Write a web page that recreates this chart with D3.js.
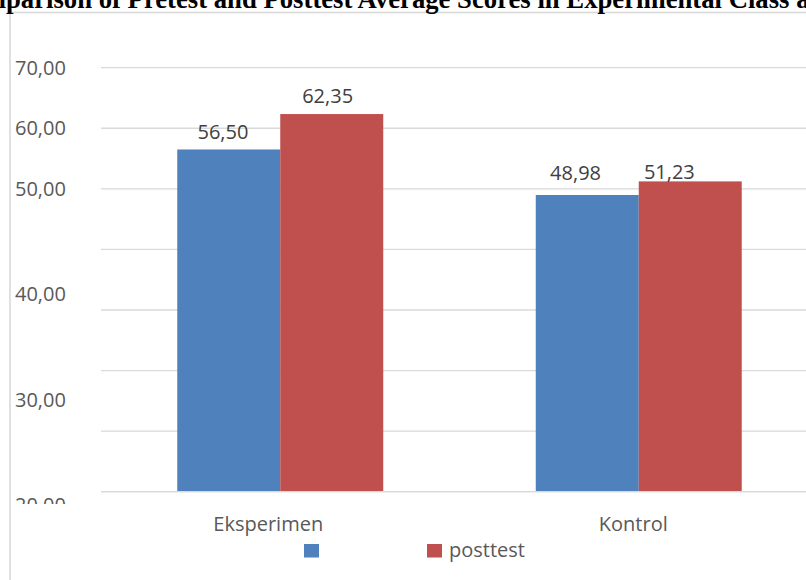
<!DOCTYPE html>
<html>
<head>
<meta charset="utf-8">
<script src="https://cdn.jsdelivr.net/npm/d3@7"></script>
<style>
  html, body { margin: 0; padding: 0; background: #fff; overflow: hidden; }
  svg { display: block; }
</style>
</head>
<body>
<div id="chart"></div>
<script>
// Pretest vs posttest averages, grouped bars (Excel-style)
const categories = ['Eksperimen', 'Kontrol'];
const seriesNames = ['', 'posttest'];          // pretest name is blank in the legend
const pretest = [56.50, 48.98];
const posttest = [62.35, 51.23];
const yTickLabels = [70, 60, 50, 40, 30, 20];
const titleText = 'Comparison of Pretest and Posttest Average Scores in Experimental Class and Control Class';

const W = 806, H = 580;
const COLORS = ['#4f81bd', '#c0504d'];
const GRID = '#d9d9d9';
const TEXT = '#595959';
const FONT = '"Open Sans", "Noto Sans", sans-serif';

const series = [pretest, posttest];
const rows = categories.map((c, i) => ({ cat: c, vals: series.map(s => s[i]) }));
const fmt = d3.formatLocale({ decimal: ',', thousands: '.', grouping: [3], currency: ['', ''] }).format('.2f');

const svg = d3.select('#chart').append('svg')
  .attr('width', W)
  .attr('height', H)
  .style('font-family', FONT);

// chart frame (runs off the right/bottom edge)
svg.append('rect')
  .attr('x', 10).attr('y', 12.5)
  .attr('width', W + 20).attr('height', H + 20)
  .attr('fill', '#fff')
  .attr('stroke', GRID)
  .attr('stroke-width', 1.6);

// title, cropped at the top-left like the source image
const title = svg.append('text')
  .attr('y', 7.8)
  .style('font-family', '"Liberation Serif", "Times New Roman", serif')
  .style('font-weight', 'bold')
  .style('font-size', '26.7px')
  .attr('fill', '#000')
  .text(titleText);
const lead = title.node().getSubStringLength(0, 3);
title.attr('x', 6 - lead);

const x = d3.scaleBand()
  .domain(categories)
  .range([101, 818])
  .paddingInner(0.4254)
  .paddingOuter(0.2127);

const xs = d3.scaleBand()
  .domain(d3.range(series.length))
  .range([0, x.bandwidth()]);

const y = d3.scaleLinear()
  .domain([0, 70])
  .range([491.7, 67.7]);

// gridlines
svg.append('g')
  .selectAll('line')
  .data(y.ticks(7))
  .join('line')
  .attr('x1', 101).attr('x2', 818)
  .attr('y1', d => y(d)).attr('y2', d => y(d))
  .attr('stroke', GRID)
  .attr('stroke-width', 1.3);

// y labels: the picture spaces the lower three further apart than the grid
const labelAt = d3.scaleLinear().domain([20, 40, 50, 70]).range([-2.2, 32.7, 50, 70]);
svg.append('clipPath').attr('id', 'ylab-clip')
  .append('rect').attr('x', 0).attr('y', 0).attr('width', 100).attr('height', 504);

svg.append('g')
  .attr('clip-path', 'url(#ylab-clip)')
  .selectAll('text')
  .data(yTickLabels)
  .join('text')
  .attr('x', 15)
  .attr('y', d => y(labelAt(d)))
  .attr('dy', '0.36em')
  .attr('fill', TEXT)
  .style('font-size', '20px')
  .text(d => fmt(d));

// bars
const groups = svg.append('g')
  .selectAll('g')
  .data(rows)
  .join('g')
  .attr('transform', d => `translate(${x(d.cat)},0)`);

groups.selectAll('rect')
  .data(d => d.vals.map((v, i) => ({ v, i })))
  .join('rect')
  .attr('x', d => xs(d.i))
  .attr('y', d => y(d.v))
  .attr('width', xs.bandwidth())
  .attr('height', d => y(0) - y(d.v))
  .attr('fill', d => COLORS[d.i]);

// axis line
svg.append('line')
  .attr('x1', 101).attr('x2', 818)
  .attr('y1', y(0)).attr('y2', y(0))
  .attr('stroke', GRID)
  .attr('stroke-width', 1.3);

// value labels (hand-moved in the original, so nudged here)
const nudge = [[[-5.8, 0], [-4.1, -1]], [[-11.7, -5]], [[-20.9, 7.6]]];
const nudgeFor = (ci, si) => ci === 0 ? nudge[0][si] : nudge[si + 1][0];

groups.each(function (row, ci) {
  d3.select(this).selectAll('text.val')
    .data(row.vals.map((v, i) => ({ v, i })))
    .join('text')
    .attr('class', 'val')
    .attr('x', d => xs(d.i) + xs.bandwidth() / 2 + nudgeFor(ci, d.i)[0])
    .attr('y', d => y(d.v) - 10 + nudgeFor(ci, d.i)[1])
    .attr('text-anchor', 'middle')
    .attr('fill', '#404040')
    .style('font-size', '20px')
    .text(d => fmt(d.v));
});

// category labels
const catShift = [-12, -5.5];
svg.append('g')
  .selectAll('text')
  .data(categories)
  .join('text')
  .attr('x', (d, i) => x(d) + x.bandwidth() / 2 + catShift[i])
  .attr('y', 531)
  .attr('text-anchor', 'middle')
  .attr('fill', TEXT)
  .style('font-size', '20px')
  .text(d => d);

// legend
const legend = svg.append('g')
  .selectAll('g')
  .data(seriesNames)
  .join('g')
  .attr('transform', (d, i) => `translate(${304 + i * 123},544)`);

legend.append('rect')
  .attr('width', 15).attr('height', 13.5)
  .attr('fill', (d, i) => COLORS[i]);

legend.append('text')
  .attr('x', 22)
  .attr('y', 12.5)
  .attr('fill', TEXT)
  .style('font-size', '20px')
  .text(d => d);
</script>
</body>
</html>
